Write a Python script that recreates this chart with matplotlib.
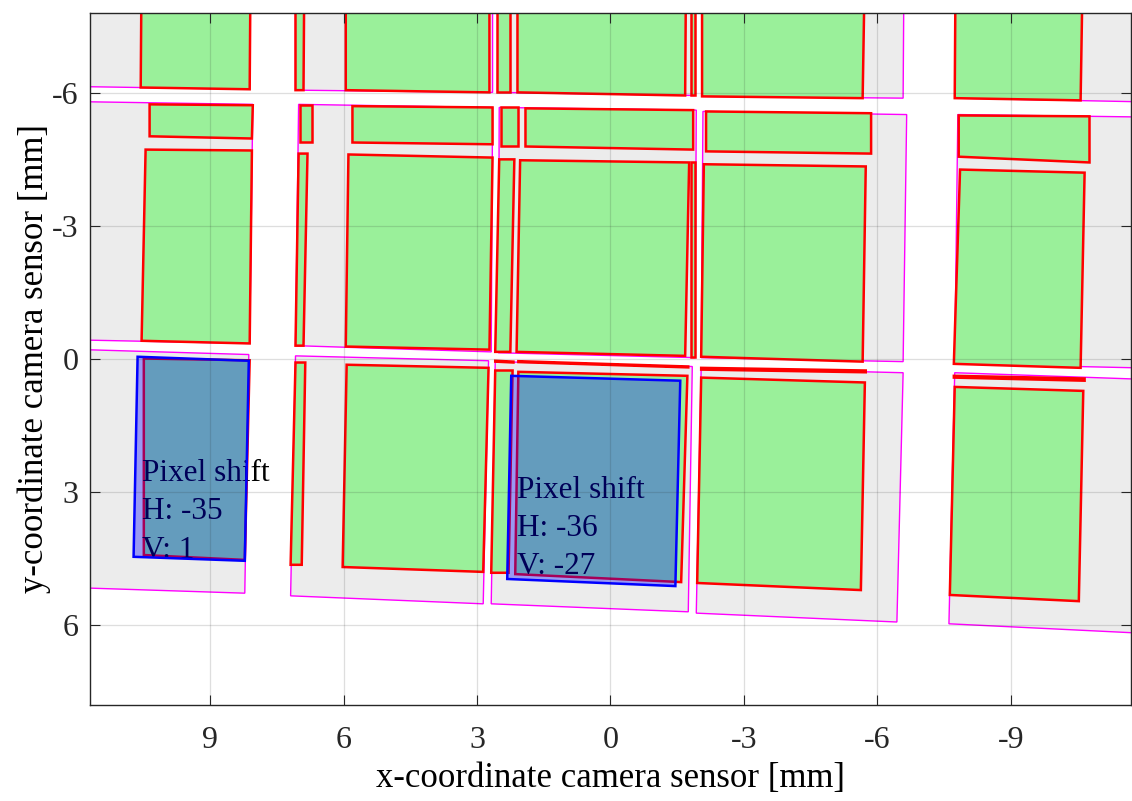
import numpy as np
import matplotlib
matplotlib.use("Agg")
import matplotlib.pyplot as plt
from matplotlib.patches import Polygon

plt.rcParams['font.family'] = ['Liberation Serif', 'DejaVu Serif']
plt.rcParams['axes.unicode_minus'] = False

# sensor tiles (grey, magenta edge): corners TL, TR, BR, BL in mm
sensor_tiles = [
    [(12.5, -8.9), (8.09, -8.9), (8.11, -6.08), (12.5, -6.15)],
    [(7.08, -8.9), (2.65, -8.9), (2.65, -6.01), (7.08, -6.06)],
    [(2.52, -8.9), (-1.90, -8.9), (-1.90, -5.94), (2.54, -6.01)],
    [(-2.08, -8.9), (-6.60, -8.9), (-6.58, -5.88), (-2.06, -5.92)],
    [(-7.76, -8.9), (-12.3, -8.9), (-12.3, -5.79), (-7.74, -5.88)],
    [(12.5, -5.81), (8.04, -5.74), (8.11, -0.35), (12.5, -0.44)],
    [(7.01, -5.74), (2.65, -5.67), (2.68, -0.16), (7.08, -0.30)],
    [(2.50, -5.67), (-1.93, -5.61), (-1.90, -0.03), (2.52, -0.14)],
    [(-2.08, -5.58), (-6.66, -5.51), (-6.58, 0.06), (-2.04, -0.03)],
    [(-7.81, -5.51), (-12.3, -5.45), (-12.3, 0.21), (-7.74, 0.11)],
    [(12.5, -0.23), (8.13, -0.10), (8.22, 5.28), (12.5, 5.14)],
    [(7.08, -0.07), (2.74, 0.04), (2.86, 5.52), (7.19, 5.34)],
    [(2.59, 0.06), (-1.84, 0.17), (-1.75, 5.70), (2.68, 5.52)],
    [(-2.04, 0.20), (-6.58, 0.31), (-6.44, 5.93), (-1.93, 5.73)],
    [(-7.74, 0.31), (-12.3, 0.47), (-12.3, 6.20), (-7.61, 5.97)],
]

# projected areas (green, red edge)
green_tiles = [
    [(10.54, -8.9), (8.09, -8.9), (8.11, -6.08), (10.56, -6.12)],
    [(7.08, -8.9), (6.88, -8.9), (6.90, -6.06), (7.08, -6.06)],
    [(5.95, -8.9), (2.72, -8.9), (2.72, -6.01), (5.95, -6.06)],
    [(2.54, -8.9), (2.25, -8.9), (2.25, -6.01), (2.54, -6.01)],
    [(2.09, -8.9), (-1.70, -8.9), (-1.68, -5.94), (2.09, -6.01)],
    [(-1.81, -8.9), (-1.90, -8.9), (-1.90, -5.94), (-1.81, -5.94)],
    [(-2.06, -8.9), (-5.72, -8.9), (-5.67, -5.88), (-2.06, -5.92)],
    [(-7.76, -8.9), (-10.62, -8.9), (-10.57, -5.83), (-7.74, -5.88)],
    [(10.36, -5.74), (8.04, -5.72), (8.06, -4.97), (10.36, -5.02)],
    [(6.99, -5.72), (6.72, -5.72), (6.72, -4.90), (6.99, -4.90)],
    [(5.80, -5.70), (2.65, -5.67), (2.65, -4.84), (5.80, -4.88)],
    [(2.47, -5.67), (2.07, -5.67), (2.07, -4.79), (2.47, -4.79)],
    [(1.91, -5.65), (-1.86, -5.61), (-1.86, -4.72), (1.91, -4.79)],
    [(-2.15, -5.58), (-5.86, -5.54), (-5.86, -4.63), (-2.15, -4.68)],
    [(-7.83, -5.49), (-10.77, -5.47), (-10.77, -4.43), (-7.83, -4.56)],
    [(10.45, -4.72), (8.06, -4.70), (8.11, -0.35), (10.54, -0.41)],
    [(7.01, -4.63), (6.81, -4.63), (6.90, -0.30), (7.08, -0.30)],
    [(5.89, -4.61), (2.65, -4.54), (2.72, -0.21), (5.95, -0.28)],
    [(2.50, -4.50), (2.16, -4.50), (2.25, -0.16), (2.59, -0.16)],
    [(2.03, -4.48), (-1.77, -4.43), (-1.68, -0.07), (2.11, -0.16)],
    [(-1.81, -4.43), (-1.90, -4.43), (-1.90, -0.05), (-1.81, -0.05)],
    [(-2.10, -4.39), (-5.74, -4.34), (-5.67, 0.06), (-2.04, -0.05)],
    [(-7.86, -4.27), (-10.66, -4.20), (-10.57, 0.20), (-7.72, 0.11)],
    [(2.59, 0.04), (2.18, 0.06), (2.18, 0.08), (2.59, 0.06)],
    [(2.07, 0.05), (-1.75, 0.17), (-1.75, 0.19), (2.07, 0.07)],
    [(-2.04, 0.20), (-5.74, 0.26), (-5.74, 0.30), (-2.04, 0.24)],
    [(-7.72, 0.38), (-10.66, 0.44), (-10.66, 0.49), (-7.72, 0.42)],
    [(10.49, -0.01), (8.11, 0.03), (8.22, 4.53), (10.49, 4.42)],
    [(7.08, 0.08), (6.86, 0.08), (6.94, 4.64), (7.19, 4.64)],
    [(5.93, 0.13), (2.74, 0.20), (2.86, 4.80), (6.02, 4.69)],
    [(2.59, 0.26), (2.20, 0.26), (2.29, 4.82), (2.68, 4.82)],
    [(2.07, 0.29), (-1.73, 0.38), (-1.59, 5.03), (2.14, 4.85)],
    [(-2.04, 0.42), (-5.72, 0.53), (-5.63, 5.21), (-1.95, 5.05)],
    [(-7.74, 0.63), (-10.63, 0.72), (-10.53, 5.46), (-7.63, 5.32)],
]

# shifted areas (blue) and their labels
blue_tiles = [
    [(10.63, -0.05), (8.13, 0.04), (8.22, 4.55), (10.72, 4.46)],
    [(2.23, 0.38), (-1.57, 0.49), (-1.46, 5.12), (2.32, 4.96)],
]
shift_h = [-35, -36]
shift_v = [1, -27]
label_pos = [(10.52, 2.26), (2.11, 2.63)]

xticks = [9, 6, 3, 0, -3, -6, -9]
yticks = [-6, -3, 0, 3, 6]

fig = plt.figure(figsize=(11.32, 8.01), dpi=100)
ax = fig.add_axes([0.0795, 0.1199, 0.9195, 0.8639])

for q in sensor_tiles:
    ax.add_patch(Polygon(q, closed=True, facecolor='#ececec', edgecolor='#ff00ff',
                         linewidth=1.0, zorder=1))
for q in green_tiles:
    ax.add_patch(Polygon(q, closed=True, facecolor='#9af09a', edgecolor='#ff0000',
                         linewidth=1.8, zorder=1.05))
for (x, y), h, v in zip(label_pos, shift_h, shift_v):
    ax.text(x, y, 'Pixel shift\nH: %d\nV: %d' % (h, v), fontsize=22.5, color='black',
            ha='left', va='top', linespacing=1.42, zorder=1.1)
for q in blue_tiles:
    ax.add_patch(Polygon(q, closed=True, facecolor=(0, 0, 1, 0.35), edgecolor='#0000ff',
                         linewidth=1.8, zorder=1.2))

ax.set_xlim(11.7, -11.7)
ax.set_ylim(7.8, -7.8)
ax.set_xticks(xticks)
ax.set_yticks(yticks)
ax.set_axisbelow(False)
ax.grid(True, color='#262626', alpha=0.15, linewidth=0.9)
ax.tick_params(direction='in', top=True, right=True, length=7.5, width=0.8,
               colors='#262626', labelsize=23)
ax.tick_params(axis='x', pad=15)
ax.tick_params(axis='y', pad=8)
for s in ax.spines.values():
    s.set_color('#262626')
    s.set_linewidth(1.0)
    s.set_zorder(3)
ax.set_xlabel('x-coordinate camera sensor [mm]', fontsize=25, labelpad=5)
ax.set_ylabel('y-coordinate camera sensor [mm]', fontsize=25, labelpad=1)

fig.savefig('out.png', dpi=100)
